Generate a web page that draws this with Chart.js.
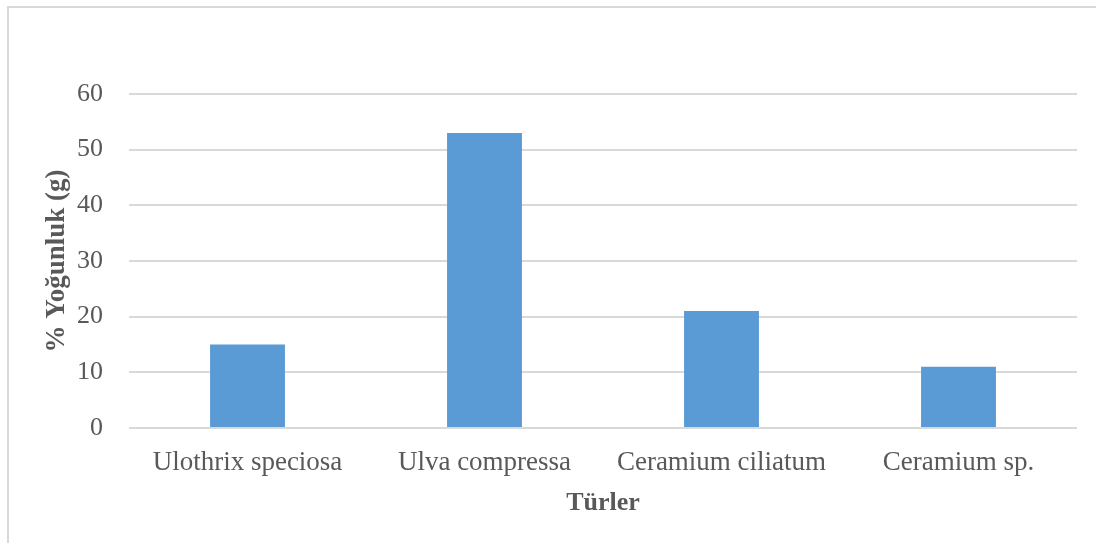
<!DOCTYPE html>
<html>
<head>
<meta charset="utf-8">
<script src="https://cdn.jsdelivr.net/npm/chart.js@4.4.1/dist/chart.umd.min.js"></script>
<style>
  html, body { margin: 0; padding: 0; background: #ffffff; }
  #wrap { position: relative; width: 1096px; height: 543px; }
</style>
</head>
<body>
<div id="wrap"><canvas id="c" width="1096" height="543"></canvas></div>
<script>
// Species and their density share
const species = ['Ulothrix speciosa', 'Ulva compressa', 'Ceramium ciliatum', 'Ceramium sp.'];
const density = [15, 53, 21, 11];
const yTicks = [0, 10, 20, 30, 40, 50, 60];

const textColor = '#595959';
const gridColor = '#d9d9d9';
const serif = "'Liberation Serif', 'Times New Roman', serif";

// Light frame along the top and left edges of the chart box
const framePlugin = {
  id: 'frame',
  beforeDraw(chart) {
    const ctx = chart.ctx;
    ctx.save();
    ctx.strokeStyle = '#d9d9d9';
    ctx.lineWidth = 2;
    ctx.beginPath();
    ctx.moveTo(8, 543);
    ctx.lineTo(8, 7);
    ctx.lineTo(1096, 7);
    ctx.stroke();
    ctx.restore();
  }
};

new Chart(document.getElementById('c'), {
  type: 'bar',
  data: {
    labels: species,
    datasets: [{
      data: density,
      backgroundColor: '#5b9bd5',
      borderWidth: 0,
      categoryPercentage: 1,
      barPercentage: 0.316
    }]
  },
  options: {
    responsive: false,
    animation: false,
    devicePixelRatio: 1,
    layout: { padding: { top: 94, right: 19, left: 0, bottom: 0 } },
    plugins: { legend: { display: false }, tooltip: { enabled: false } },
    scales: {
      x: {
        grid: { display: false, drawTicks: false },
        border: { display: false },
        ticks: {
          color: textColor,
          font: { family: serif, size: 27 },
          padding: 19,
          maxRotation: 0
        },
        title: {
          display: true,
          text: 'Türler',
          color: textColor,
          font: { family: serif, size: 26, weight: 'bold' },
          padding: 24
        },
        afterFit(scale) { scale.height = 115; }
      },
      y: {
        min: 0,
        max: 60,
        afterBuildTicks(scale) { scale.ticks = yTicks.map(v => ({ value: v })); },
        grid: { color: gridColor, lineWidth: 2, drawTicks: false },
        border: { display: false },
        ticks: {
          color: textColor,
          font: { family: serif, size: 26 },
          padding: 26
        },
        title: {
          display: true,
          text: '% Yoğunluk (g)',
          color: textColor,
          font: { family: serif, size: 27, weight: 'bold' },
          padding: 41
        },
        afterFit(scale) { scale.width = 129; }
      }
    }
  },
  plugins: [framePlugin]
});
</script>
</body>
</html>
